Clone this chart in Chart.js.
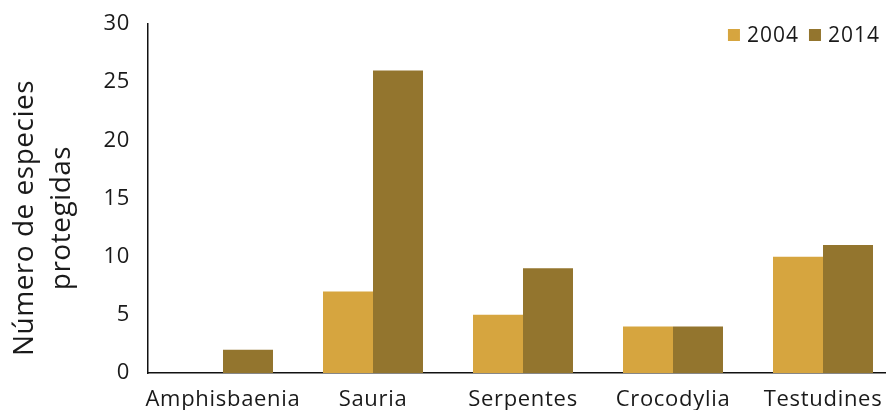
<!DOCTYPE html>
<html><head><meta charset="utf-8">
<script src="https://cdn.jsdelivr.net/npm/chart.js@4"></script>
<style>html,body{margin:0;padding:0;overflow:hidden;background:#fff}#wrap{width:900px;height:410px}</style>
</head><body><div id="wrap"><canvas id="c" width="900" height="410"></canvas></div>
<script>
const categories = ['Amphisbaenia', 'Sauria', 'Serpentes', 'Crocodylia', 'Testudines'];
const series2004 = [0, 7, 5, 4, 10];
const series2014 = [2, 26, 9, 4, 11];
const seriesLabels = ['2004', '2014'];
const yTicks = [0, 5, 10, 15, 20, 25, 30];
const yTitle = ['Número de especies', 'protegidas'];

const FONT = '"Open Sans", sans-serif';
const TEXT = '#1a1a1a';

const spacingPlugin = {
  id: 'spacing',
  beforeDraw(chart) { chart.ctx.letterSpacing = '0.7px'; }
};

const legendPlugin = {
  id: 'customLegend',
  afterDraw(chart) {
    const ctx = chart.ctx;
    ctx.save();
    ctx.letterSpacing = '1px';
    ctx.font = '21px ' + FONT;
    ctx.textBaseline = 'middle';
    let x = chart.chartArea.right - 18;
    const y = chart.chartArea.top + 11;
    const ds = chart.data.datasets;
    for (let i = ds.length - 1; i >= 0; i--) {
      const w = ctx.measureText(ds[i].label).width;
      x -= w;
      ctx.fillStyle = TEXT;
      ctx.fillText(ds[i].label, x, y + 1);
      x -= 7 + 12;
      ctx.fillStyle = ds[i].backgroundColor;
      ctx.fillRect(x, y - 6, 12, 12);
      x -= 10;
    }
    ctx.restore();
  }
};

const titlePlugin = {
  id: 'yTitle',
  afterDraw(chart) {
    const ctx = chart.ctx;
    ctx.save();
    ctx.letterSpacing = '0.5px';
    ctx.font = '28px ' + FONT;
    ctx.fillStyle = TEXT;
    ctx.textAlign = 'center';
    ctx.textBaseline = 'alphabetic';
    const baselines = [33, 70];
    yTitle.forEach((t, i) => {
      ctx.save();
      ctx.translate(baselines[i], 218);
      ctx.rotate(-Math.PI / 2);
      ctx.fillText(t, 0, 0);
      ctx.restore();
    });
    ctx.restore();
  }
};

new Chart(document.getElementById('c'), {
  type: 'bar',
  data: {
    labels: categories,
    datasets: [
      { label: seriesLabels[0], data: series2004, backgroundColor: '#D6A53F', barPercentage: 1, categoryPercentage: 2/3 },
      { label: seriesLabels[1], data: series2014, backgroundColor: '#93752E', barPercentage: 1, categoryPercentage: 2/3 }
    ]
  },
  options: {
    responsive: false,
    animation: false,
    devicePixelRatio: 1,
    layout: { padding: { top: 0, right: 2, left: 0, bottom: 0 } },
    plugins: { legend: { display: false }, tooltip: { enabled: false } },
    scales: {
      x: {
        offset: true,
        grid: { display: false, drawTicks: false },
        border: { display: true, color: '#111', width: 1.5 },
        ticks: { color: TEXT, font: { family: FONT, size: 22 }, padding: 14, maxRotation: 0, autoSkip: false },
        afterFit(s) { s.height = 37; }
      },
      y: {
        min: 0, max: 30,
        afterBuildTicks(s) { s.ticks = yTicks.map(v => ({ value: v })); },
        grid: { display: false, drawTicks: false },
        border: { display: true, color: '#111', width: 1.5 },
        ticks: { color: TEXT, font: { family: FONT, size: 22 }, padding: 18 },
        afterFit(s) { s.width = 148; s.paddingTop = 24; s.paddingBottom = 0; }
      }
    }
  },
  plugins: [spacingPlugin, legendPlugin, titlePlugin]
});
</script></body></html>
